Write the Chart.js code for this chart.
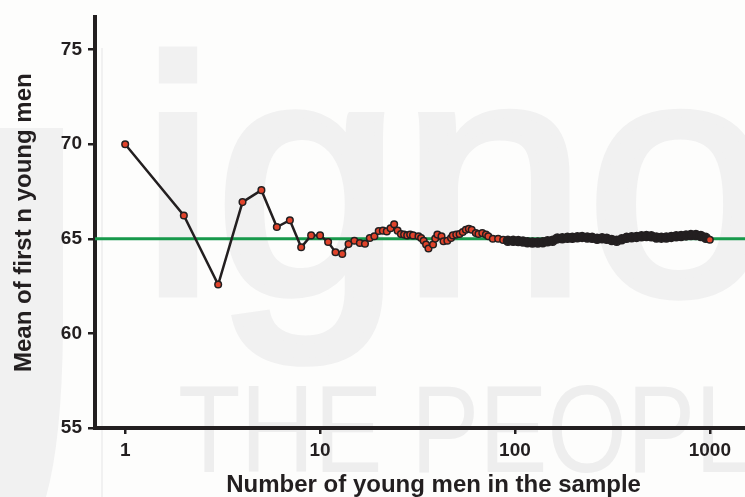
<!DOCTYPE html>
<html>
<head>
<meta charset="utf-8">
<script src="https://cdn.jsdelivr.net/npm/chart.js@4"></script>
<style>
  html, body { margin: 0; padding: 0; overflow: hidden; background: #fdfdfc; }
  #wrap { width: 777px; height: 497px; }
</style>
</head>
<body>
<div id="wrap"><canvas id="chart" width="777" height="497"></canvas></div>
<script>
// sample size n (x) and mean of the first n values (y)
const sampleSizes = [
    1, 2, 3, 4, 5, 6, 7, 8, 9, 10, 11, 12, 13, 14, 15, 16, 17, 18, 19, 20,
    21, 22, 23, 24, 25, 26, 27, 28, 29, 30, 32, 33, 34, 35, 36, 38, 39, 40,
    42, 43, 45, 47, 48, 50, 52, 54, 56, 58, 60, 63, 65, 68, 71,
    73, 77, 82, 87, 92, 98, 104, 110, 116, 123, 131, 139, 147, 156, 165,
    175, 186, 197, 209, 221, 235, 249, 264, 280, 296, 314, 333, 353, 374,
    397, 421, 446, 473, 501, 532, 564, 598, 634, 672, 712, 755, 800, 849,
    900, 954, 1000
];
const runningMeans = [
    70.0, 66.23, 62.58, 66.94, 67.57, 65.62, 65.98, 64.55, 65.18, 65.18,
    64.83, 64.29, 64.2, 64.72, 64.9, 64.78, 64.74, 65.04, 65.13, 65.41,
    65.43, 65.39, 65.56, 65.77, 65.43, 65.25, 65.22, 65.18, 65.22, 65.18,
    65.13, 65.04, 64.9, 64.7, 64.49, 64.7, 65.01, 65.22,
    65.13, 64.87, 64.9, 65.04, 65.18, 65.22, 65.25, 65.36, 65.48, 65.53,
    65.48, 65.3, 65.25, 65.3, 65.22,
    65.13, 65.0, 65.0, 64.94, 64.9, 64.89, 64.88, 64.85, 64.82, 64.8,
    64.8, 64.82, 64.87, 64.9, 65.02, 65.03, 65.05, 65.05, 65.08, 65.1,
    65.07, 65.05, 65.0, 65.03, 65.0, 64.94, 64.9, 64.97, 65.05, 65.08,
    65.1, 65.13, 65.15, 65.13, 65.07, 65.06, 65.07, 65.1, 65.13, 65.15,
    65.18, 65.2, 65.2, 65.15, 65.05, 64.95
];
const xTickValues = [1, 10, 100, 1000];
const yTickValues = [55, 60, 65, 70, 75];
const populationMean = 65;

const fontFamily = '"Liberation Sans", Arial, Helvetica, sans-serif';
const ink = '#231f20';

// faint logo behind the plot
const watermark = {
    id: 'watermark',
    beforeDraw(chart) {
        const ctx = chart.ctx;
        ctx.save();
        ctx.fillStyle = '#fdfdfc';
        ctx.fillRect(0, 0, chart.width, chart.height);
        ctx.fillStyle = '#f1f1f1';
        ctx.strokeStyle = '#f1f1f1';
        ctx.beginPath();
        ctx.moveTo(0, 128);
        ctx.lineTo(63, 128);
        ctx.lineTo(63, 330);
        ctx.quadraticCurveTo(62, 440, 46, 497);
        ctx.lineTo(0, 497);
        ctx.closePath();
        ctx.fill();
        ctx.fillRect(101, 48, 2, 449);
        ctx.font = '334px ' + fontFamily;
        ctx.textBaseline = 'alphabetic';
        ctx.lineWidth = 9;
        ctx.lineJoin = 'miter';
        ctx.fillText('igno', 141, 293);
        ctx.strokeText('igno', 141, 293);
        ctx.fillStyle = '#eeeeee';
        ctx.font = '124px ' + fontFamily;
        ctx.fillText('THE PEOPL', 178, 472, 574);
        ctx.restore();
    }
};

// green line at the population mean
const meanLine = {
    id: 'meanLine',
    beforeDatasetsDraw(chart) {
        const { ctx, chartArea, scales } = chart;
        const y = scales.y.getPixelForValue(populationMean);
        ctx.save();
        ctx.strokeStyle = '#17994b';
        ctx.lineWidth = 3;
        ctx.beginPath();
        ctx.moveTo(chartArea.left, y);
        ctx.lineTo(chartArea.right, y);
        ctx.stroke();
        ctx.restore();
    }
};

const points = sampleSizes.map((n, i) => ({ x: n, y: runningMeans[i] }));

const isDense = (i) => sampleSizes[i] > 90 && i < sampleSizes.length - 1;

new Chart(document.getElementById('chart').getContext('2d'), {
    type: 'line',
    data: {
        datasets: [{
            data: points,
            borderColor: ink,
            borderWidth: 2.5,
            tension: 0,
            // overlapping markers in the dense part form a thick dark band
            pointRadius: (ctx) => isDense(ctx.dataIndex) ? 4.5 : 3.3,
            pointHoverRadius: 3.3,
            pointBorderWidth: 1.5,
            pointBorderColor: ink,
            pointBackgroundColor: (ctx) => isDense(ctx.dataIndex) ? ink : '#e0432b'
        }]
    },
    options: {
        responsive: false,
        animation: false,
        layout: { padding: { top: 14, left: 0, right: 0, bottom: 0 } },
        plugins: {
            legend: { display: false },
            tooltip: { enabled: false }
        },
        scales: {
            x: {
                type: 'logarithmic',
                min: 0.72,
                max: 2090,
                afterBuildTicks: (scale) => { scale.ticks = xTickValues.map(v => ({ value: v })); },
                afterFit: (scale) => { scale.height = 69; },
                ticks: {
                    color: ink,
                    font: { family: fontFamily, size: 19, weight: 'bold' },
                    padding: 5,
                    autoSkip: false,
                    maxRotation: 0,
                    callback: (v) => String(v)
                },
                grid: { drawOnChartArea: false, drawTicks: true, tickLength: 6, color: ink, lineWidth: 2.5 },
                border: { display: true, color: ink, width: 4 },
                title: {
                    display: true,
                    text: 'Number of young men in the sample',
                    color: ink,
                    font: { family: fontFamily, size: 24, weight: 'bold', lineHeight: 1 },
                    padding: 0
                }
            },
            y: {
                min: 55,
                max: 76.7,
                afterBuildTicks: (scale) => { scale.ticks = yTickValues.map(v => ({ value: v })); },
                afterFit: (scale) => { scale.width = 95; },
                ticks: {
                    color: ink,
                    font: { family: fontFamily, size: 19, weight: 'bold' },
                    padding: 6
                },
                grid: { drawOnChartArea: false, drawTicks: true, tickLength: 7, color: ink, lineWidth: 2.5 },
                border: { display: true, color: ink, width: 4 },
                title: {
                    display: true,
                    text: 'Mean of first n young men',
                    color: ink,
                    font: { family: fontFamily, size: 24, weight: 'bold', lineHeight: 1 },
                    padding: { top: 12, bottom: 0 }
                }
            }
        }
    },
    plugins: [watermark, meanLine]
});
</script>
</body>
</html>
